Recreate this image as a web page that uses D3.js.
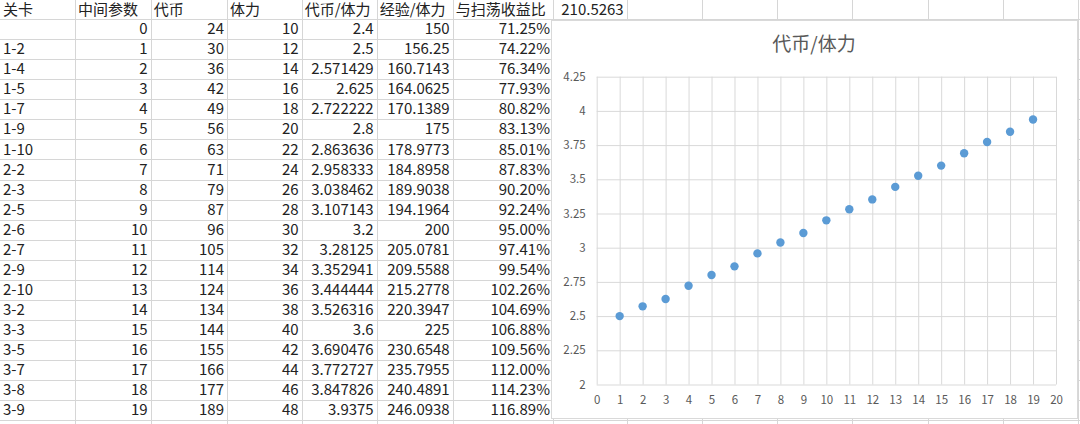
<!DOCTYPE html>
<html>
<head>
<meta charset="utf-8">
<script src="https://cdn.jsdelivr.net/npm/d3@7"></script>
<style>
  body { margin: 0; background: #fff; }
  svg { display: block; }
</style>
</head>
<body>
<svg id="sheet" width="1080" height="424"></svg>
<script>
// Sheet data
var headers = ["关卡", "中间参数", "代币", "体力", "代币/体力", "经验/体力", "与扫荡收益比"];
var sweepExp = 210.5263;
var stages = ["", "1-2", "1-4", "1-5", "1-7", "1-9", "1-10", "2-2", "2-3", "2-5", "2-6",
              "2-7", "2-9", "2-10", "3-2", "3-3", "3-5", "3-7", "3-8", "3-9"];
var params = [0, 1, 2, 3, 4, 5, 6, 7, 8, 9, 10, 11, 12, 13, 14, 15, 16, 17, 18, 19];
var coins = [24, 30, 36, 42, 49, 56, 63, 71, 79, 87, 96, 105, 114, 124, 134, 144, 155, 166, 177, 189];
var stamina = [10, 12, 14, 16, 18, 20, 22, 24, 26, 28, 30, 32, 34, 36, 38, 40, 42, 44, 46, 48];
var coinPerStamina = [2.4, 2.5, 2.571429, 2.625, 2.722222, 2.8, 2.863636, 2.958333, 3.038462, 3.107143,
                      3.2, 3.28125, 3.352941, 3.444444, 3.526316, 3.6, 3.690476, 3.772727, 3.847826, 3.9375];
var expPerStamina = [150, 156.25, 160.7143, 164.0625, 170.1389, 175, 178.9773, 184.8958, 189.9038, 194.1964,
                     200, 205.0781, 209.5588, 215.2778, 220.3947, 225, 230.6548, 235.7955, 240.4891, 246.0938];
var sweepRatio = [71.25, 74.22, 76.34, 77.93, 80.82, 83.13, 85.01, 87.83, 90.20, 92.24,
                  95.00, 97.41, 99.54, 102.26, 104.69, 106.88, 109.56, 112.00, 114.23, 116.89];

// Chart data (rows 1..19 of the sheet)
var chartTitle = "代币/体力";
var xTicks = d3.range(0, 21);
var yTicks = [2, 2.25, 2.5, 2.75, 3, 3.25, 3.5, 3.75, 4, 4.25];

var style = {
    font: "'Noto Sans CJK SC', 'Noto Sans', sans-serif",
    cellFont: 15,
    text: "#222",
    cellLine: "#d6d6d6",
    grid: "#d9d9d9",
    axisText: "#595959",
    dot: "#5b9bd5"
};

var svg = d3.select("#sheet");

// Column boundaries of the sheet
var colEdges = [0, 75, 150.7, 227, 301.7, 376.7, 452.7, 553, 626.7, 701.9, 777.1, 852.3, 927.5, 1002.7, 1078];
var rowY = d3.scaleLinear().domain([0, 1]).range([-1, 19.06]);   // row k top edge
var rowCount = 22;

var grid = svg.append("g");
grid.selectAll("line.h")
    .data(d3.range(1, rowCount))
    .join("line")
    .attr("x1", 0).attr("x2", 1080)
    .attr("y1", function(k) { return Math.round(rowY(k)) + 0.5; })
    .attr("y2", function(k) { return Math.round(rowY(k)) + 0.5; })
    .attr("stroke", style.cellLine);
grid.selectAll("line.v")
    .data(colEdges.slice(1))
    .join("line")
    .attr("x1", function(x) { return Math.round(x) + 0.5; })
    .attr("x2", function(x) { return Math.round(x) + 0.5; })
    .attr("y1", 0).attr("y2", 424)
    .attr("stroke", style.cellLine);

function fmtGeneral(v) {
    return String(+v.toPrecision(7));
}

// cells: [col, row, text, anchor]
var cells = [];
headers.forEach(function(h, i) { cells.push([i, 0, h, "start"]); });
cells.push([7, 0, fmtGeneral(sweepExp), "end"]);
params.forEach(function(p, i) {
    var r = i + 1;
    cells.push([0, r, stages[i], "start"]);
    cells.push([1, r, String(p), "end"]);
    cells.push([2, r, String(coins[i]), "end"]);
    cells.push([3, r, String(stamina[i]), "end"]);
    cells.push([4, r, fmtGeneral(coinPerStamina[i]), "end"]);
    cells.push([5, r, fmtGeneral(expPerStamina[i]), "end"]);
    cells.push([6, r, d3.format(".2f")(sweepRatio[i]) + "%", "end"]);
});

svg.append("g")
    .selectAll("text")
    .data(cells)
    .join("text")
    .attr("x", function(c) { return c[3] === "start" ? colEdges[c[0]] + 3 : colEdges[c[0] + 1] - 3; })
    .attr("y", function(c) { return (rowY(c[1]) + rowY(c[1] + 1)) / 2 + (c[1] === 0 ? 1.5 : 1); })
    .attr("dominant-baseline", "middle")
    .attr("text-anchor", function(c) { return c[3]; })
    .attr("font-family", style.font)
    .attr("font-size", style.cellFont)
    .attr("fill", style.text)
    .text(function(c) { return c[2]; });

// Embedded chart
var box = { x: 551, y: 20, w: 526, h: 398 };
var chart = svg.append("g");
chart.append("rect")
    .attr("x", box.x + 0.5).attr("y", box.y + 0.5)
    .attr("width", box.w).attr("height", box.h)
    .attr("fill", "#fff")
    .attr("stroke", style.grid);

chart.append("text")
    .attr("x", box.x + box.w / 2)
    .attr("y", 46)
    .attr("dominant-baseline", "middle")
    .attr("text-anchor", "middle")
    .attr("font-family", style.font)
    .attr("font-size", 19)
    .attr("fill", style.axisText)
    .text(chartTitle);

var x = d3.scaleLinear().domain([0, 20]).range([596.7, 1056]);
var y = d3.scaleLinear().domain([2, 4.25]).range([384.5, 76.7]);

var yAxis = d3.axisLeft(y)
    .tickValues(yTicks)
    .tickSize(-(x.range()[1] - x.range()[0]))
    .tickPadding(11)
    .tickFormat(function(d) { return String(d); });
var xAxis = d3.axisBottom(x)
    .tickValues(xTicks)
    .tickSize(-(y.range()[0] - y.range()[1]))
    .tickPadding(11)
    .tickFormat(function(d) { return String(d); });

function styleAxis(g) {
    g.select(".domain").remove();
    g.selectAll(".tick line").attr("stroke", style.grid);
    g.selectAll(".tick text")
        .attr("font-family", style.font)
        .attr("font-size", 11.5)
        .attr("fill", style.axisText);
}

chart.append("g")
    .attr("transform", "translate(" + x.range()[0] + ",0)")
    .call(yAxis)
    .call(styleAxis);
chart.append("g")
    .attr("transform", "translate(0," + y.range()[0] + ")")
    .call(xAxis)
    .call(styleAxis);

chart.append("g")
    .selectAll("circle")
    .data(params.slice(1))
    .join("circle")
    .attr("cx", function(p) { return x(p); })
    .attr("cy", function(p) { return y(coinPerStamina[p]); })
    .attr("r", 4.2)
    .attr("fill", style.dot);
</script>
</body>
</html>
